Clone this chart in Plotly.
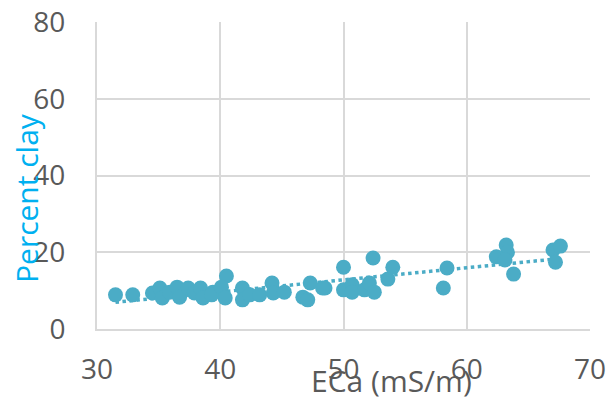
import numpy as np
import plotly.graph_objects as go

eca = [31.5, 32.9, 34.5, 35.1, 35.3, 35.9, 36.5, 36.7, 37.4, 37.9, 38.4, 38.6, 39.4,
       39.3, 40.5, 40.1, 40.4, 41.8, 41.8, 42.4, 43.2, 44.2, 44.3, 45.2, 46.7, 47.3,
       47.1, 48.5, 48.3, 50.0, 50.0, 50.7, 50.7, 51.7, 52.4, 52.1, 52.5, 53.6, 54.0,
       58.1, 58.4, 63.2, 63.3, 62.4, 63.1, 63.8, 67.0, 67.6, 67.2]
clay = [8.9, 8.9, 9.4, 10.7, 8.1, 9.6, 10.9, 8.3, 10.7, 9.4, 10.7, 8.1, 9.6,
        8.9, 13.8, 10.9, 8.1, 10.7, 7.6, 8.9, 8.9, 12.0, 9.4, 9.6, 8.3, 12.0,
        7.6, 10.7, 10.7, 16.1, 10.2, 11.5, 9.6, 10.2, 18.5, 12.0, 9.6, 13.0, 16.1,
        10.7, 15.9, 21.9, 20.0, 18.8, 18.0, 14.3, 20.6, 21.6, 17.4]

x_ticks = [30, 40, 50, 60, 70]
y_ticks = [0, 20, 40, 60, 80]

color = "#4BACC6"
font = "Open Sans"

slope, intercept = np.polyfit(eca, clay, 1)
tx = np.array([min(eca), max(eca)])
ty = slope * tx + intercept

fig = go.Figure()
fig.add_trace(go.Scatter(x=tx, y=ty, mode="lines",
                         line=dict(color=color, width=3.5, dash="dot"),
                         hoverinfo="skip", showlegend=False))
fig.add_trace(go.Scatter(x=eca, y=clay, mode="markers",
                         marker=dict(color=color, size=15, line=dict(width=0)),
                         showlegend=False))

fig.update_layout(
    width=609, height=398,
    margin=dict(l=97, r=19, t=22, b=69, autoexpand=False),
    paper_bgcolor="white", plot_bgcolor="white",
    font=dict(family=font, size=28, color="#595959"),
    xaxis=dict(range=[30, 70], tickvals=x_ticks, ticktext=[str(v) for v in x_ticks],
               showgrid=True, gridcolor="#D9D9D9", gridwidth=2,
               showline=True, linecolor="#D9D9D9", linewidth=2,
               zeroline=False, ticks="", ticklabelstandoff=14, automargin=False,
               tickfont=dict(size=28, color="#595959")),
    yaxis=dict(range=[0, 80], tickvals=y_ticks, ticktext=[str(v) for v in y_ticks],
               showgrid=True, gridcolor="#D9D9D9", gridwidth=2,
               showline=True, linecolor="#D9D9D9", linewidth=2,
               zeroline=False, ticks="", ticklabelstandoff=24, automargin=False,
               tickfont=dict(size=28, color="#595959")),
    annotations=[
        dict(text="ECa (mS/m)", xref="paper", yref="paper",
             x=(391 - 97) / (590 - 97), y=-(380 - 329) / (329 - 22),
             xanchor="center", yanchor="middle", showarrow=False,
             font=dict(family=font, size=30, color="#595959")),
        dict(text="Percent clay", xref="paper", yref="paper", textangle=-90,
             x=-(97 - 26) / (590 - 97), y=(329 - 198) / (329 - 22),
             xanchor="center", yanchor="middle", showarrow=False,
             font=dict(family=font, size=30, color="#00B0F0")),
    ],
)

fig.write_html("out.html")
